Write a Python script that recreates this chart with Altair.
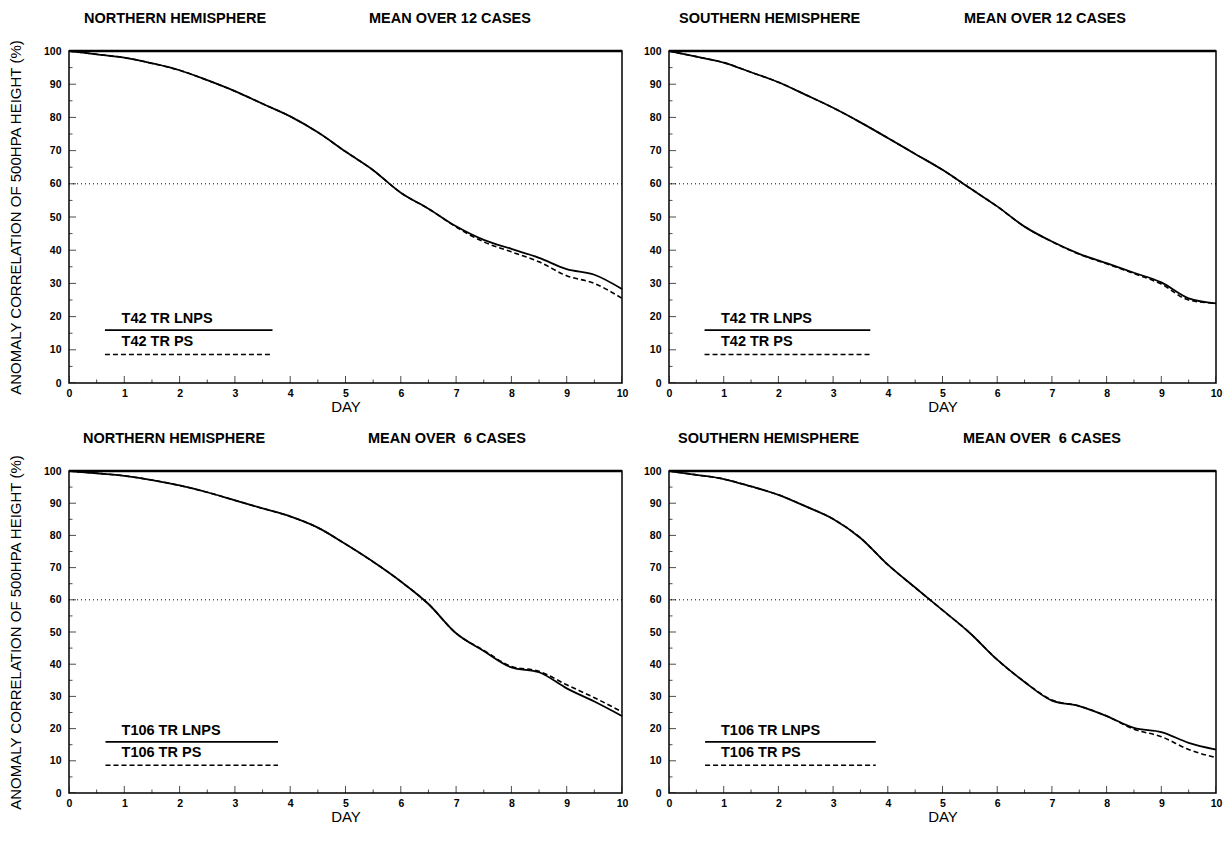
import altair as alt
import pandas as pd

# ---------------- data ----------------
DAYS = [0, 0.5, 1, 1.5, 2, 2.5, 3, 3.5, 4, 4.5, 5, 5.5, 6, 6.5, 7, 7.5, 8, 8.5, 9, 9.5, 10]

NH12_LNPS = [100, 99.0, 98.0, 96.3, 94.2, 91.2, 87.9, 84.1, 80.3, 75.5, 69.7, 64.1, 57.3, 52.5, 47.2, 43.1, 40.4, 37.7, 34.3, 32.6, 28.3]
NH12_PS   = [100, 99.0, 98.0, 96.3, 94.2, 91.2, 87.9, 84.1, 80.3, 75.5, 69.7, 64.1, 57.3, 52.5, 47.0, 42.5, 39.5, 36.5, 32.3, 30.0, 25.5]

SH12_LNPS = [100, 98.3, 96.5, 93.6, 90.6, 86.8, 82.9, 78.5, 73.8, 69.0, 64.2, 58.7, 53.2, 47.1, 42.6, 38.9, 36.1, 33.2, 30.3, 25.5, 24.0]
SH12_PS   = [100, 98.3, 96.5, 93.6, 90.6, 86.8, 82.9, 78.5, 73.8, 69.0, 64.2, 58.7, 53.2, 47.1, 42.6, 38.8, 35.9, 33.0, 29.8, 25.0, 24.0]

NH6_LNPS  = [100, 99.3, 98.5, 97.2, 95.5, 93.4, 90.9, 88.4, 85.9, 82.4, 77.3, 71.8, 65.7, 58.7, 49.6, 44.1, 39.0, 37.5, 32.5, 28.4, 23.9]
NH6_PS    = [100, 99.3, 98.5, 97.2, 95.5, 93.4, 90.9, 88.4, 85.9, 82.4, 77.3, 71.8, 65.7, 58.7, 49.6, 44.3, 39.3, 37.8, 33.6, 29.6, 25.2]

SH6_LNPS  = [100, 98.8, 97.5, 95.2, 92.6, 89.0, 85.1, 79.2, 70.9, 63.8, 56.8, 49.7, 41.4, 34.5, 28.7, 27.0, 23.9, 20.2, 18.9, 15.6, 13.5]
SH6_PS    = [100, 98.8, 97.5, 95.2, 92.6, 89.0, 85.1, 79.2, 70.9, 63.8, 56.8, 49.7, 41.4, 34.5, 28.9, 27.0, 23.9, 19.8, 17.5, 13.5, 11.0]

Y_TICKS = [0, 10, 20, 30, 40, 50, 60, 70, 80, 90, 100]
Y_MINOR = [5, 15, 25, 35, 45, 55, 65, 75, 85, 95]
X_TICKS = [0, 1, 2, 3, 4, 5, 6, 7, 8, 9, 10]
X_MINOR = [0.5, 1.5, 2.5, 3.5, 4.5, 5.5, 6.5, 7.5, 8.5, 9.5]
THRESHOLD = [60]
TOP = [100]

# legend: [x_start, x_end], line y, label y, label x
LEG_T42_X = [0.65, 3.68]
LEG_T106_X = [0.66, 3.78]
LEG_LINE_Y = [15.9, 8.6]
LEG_TEXT_Y = [19.3, 12.4]
LEG_TEXT_X = 0.95

FONT = "Liberation Sans"


def panel(left_title, right_title, lnps, ps, names, leg_x, w, h,
          ytitle, tdx_left, tdx_right):
    df = pd.DataFrame({"day": DAYS, "lnps": lnps, "ps": ps})
    xs = alt.Scale(domain=[0, 10], nice=False, zero=False)
    ys = alt.Scale(domain=[0, 100], nice=False)

    x_axis = alt.Axis(values=X_TICKS, title="DAY", ticks=False, domain=False,
                      grid=False, labelFont=FONT, labelFontWeight="bold",
                      labelFontSize=10.5, labelColor="black", labelPadding=5,
                      titleFont=FONT, titleFontWeight="normal", titleFontSize=15,
                      titleColor="black", titlePadding=1, labelFlush=False,
                      labelOverlap=False)
    y_kwargs = dict(values=Y_TICKS, ticks=False, domain=False, grid=False,
                    labelFont=FONT, labelFontWeight="bold", labelFontSize=10.5,
                    labelColor="black", labelPadding=8, titleFont=FONT,
                    titleFontWeight="normal", titleFontSize=15, titleColor="black",
                    titlePadding=20, labelFlush=False, labelOverlap=False)
    if ytitle:
        y_axis = alt.Axis(title="ANOMALY CORRELATION OF 500HPA HEIGHT (%)", **y_kwargs)
    else:
        y_axis = alt.Axis(title=None, **y_kwargs)

    def X(f):
        return alt.X(f, type="quantitative", scale=xs, axis=x_axis)

    def Y(f):
        return alt.Y(f, type="quantitative", scale=ys, axis=y_axis)

    base = alt.Chart(df)
    l1 = base.mark_line(color="black", strokeWidth=1.8, interpolate="monotone").encode(
        x=X("day"), y=Y("lnps"))
    l2 = base.mark_line(color="black", strokeWidth=1.6, strokeDash=[5, 3],
                        interpolate="monotone").encode(x=X("day"), y=Y("ps"))

    thr = alt.Chart(pd.DataFrame({"v": THRESHOLD})).mark_rule(
        color="black", strokeWidth=1, strokeDash=[1, 3]).encode(y=Y("v"))
    top = alt.Chart(pd.DataFrame({"v": TOP})).mark_rule(
        color="black", strokeWidth=2.5).encode(y=Y("v"))

    # inward tick marks
    xt_major = alt.Chart(pd.DataFrame({"t": X_TICKS})).mark_tick(
        orient="vertical", size=14, thickness=1, color="black", clip=True).encode(
        x=X("t"), y=alt.value(h))
    xt_minor = alt.Chart(pd.DataFrame({"t": X_MINOR})).mark_tick(
        orient="vertical", size=7, thickness=1, color="black", clip=True).encode(
        x=X("t"), y=alt.value(h))
    yt_major = alt.Chart(pd.DataFrame({"t": Y_TICKS})).mark_tick(
        orient="horizontal", size=14, thickness=1, color="black", clip=True).encode(
        y=Y("t"), x=alt.value(0))
    yt_minor = alt.Chart(pd.DataFrame({"t": Y_MINOR})).mark_tick(
        orient="horizontal", size=7, thickness=1, color="black", clip=True).encode(
        y=Y("t"), x=alt.value(0))

    # legend
    leg_solid = alt.Chart(pd.DataFrame({"x": leg_x, "y": [LEG_LINE_Y[0]] * 2})).mark_line(
        color="black", strokeWidth=1.8).encode(x=X("x"), y=Y("y"))
    leg_dash = alt.Chart(pd.DataFrame({"x": leg_x, "y": [LEG_LINE_Y[1]] * 2})).mark_line(
        color="black", strokeWidth=1.6, strokeDash=[5, 3]).encode(x=X("x"), y=Y("y"))
    leg_text = alt.Chart(pd.DataFrame({
        "x": [LEG_TEXT_X, LEG_TEXT_X], "y": LEG_TEXT_Y, "label": names})).mark_text(
        align="left", baseline="middle", font=FONT, fontSize=14.5,
        fontWeight="bold", color="black").encode(
        x=X("x"), y=Y("y"), text="label:N")

    titles = alt.Chart(pd.DataFrame({"t": [left_title]})).mark_text(
        align="left", baseline="middle", font=FONT, fontSize=14.5,
        fontWeight="bold", color="black").encode(
        text="t:N", x=alt.value(tdx_left), y=alt.value(-32))
    titles2 = alt.Chart(pd.DataFrame({"t": [right_title]})).mark_text(
        align="left", baseline="middle", font=FONT, fontSize=14.5,
        fontWeight="bold", color="black").encode(
        text="t:N", x=alt.value(tdx_right), y=alt.value(-32))

    return alt.layer(l1, l2, thr, top, xt_major, xt_minor, yt_major, yt_minor,
                     leg_solid, leg_dash, leg_text, titles, titles2).properties(
        width=w, height=h)


p1 = panel("NORTHERN HEMISPHERE", "MEAN OVER 12 CASES", NH12_LNPS, NH12_PS,
           ["T42 TR LNPS", "T42 TR PS"], LEG_T42_X, 553, 332, True, 15, 300)
p2 = panel("SOUTHERN HEMISPHERE", "MEAN OVER 12 CASES", SH12_LNPS, SH12_PS,
           ["T42 TR LNPS", "T42 TR PS"], LEG_T42_X, 547, 332, False, 10, 295)
p3 = panel("NORTHERN HEMISPHERE", "MEAN OVER \u00a06 CASES", NH6_LNPS, NH6_PS,
           ["T106 TR LNPS", "T106 TR PS"], LEG_T106_X, 553, 322, True, 14, 299)
p4 = panel("SOUTHERN HEMISPHERE", "MEAN OVER \u00a06 CASES", SH6_LNPS, SH6_PS,
           ["T106 TR LNPS", "T106 TR PS"], LEG_T106_X, 547, 322, False, 9, 294)

row1 = alt.hconcat(p1, p2, spacing=13)
row2 = alt.hconcat(p3, p4, spacing=13)
chart = alt.vconcat(row1, row2, spacing=14).properties(
    padding={"left": 7, "top": 10, "right": 5, "bottom": 5},
    background="white",
).configure_view(stroke="black", strokeWidth=1.5)

chart.save("out.html", embed_options={"renderer": "svg", "actions": False})
